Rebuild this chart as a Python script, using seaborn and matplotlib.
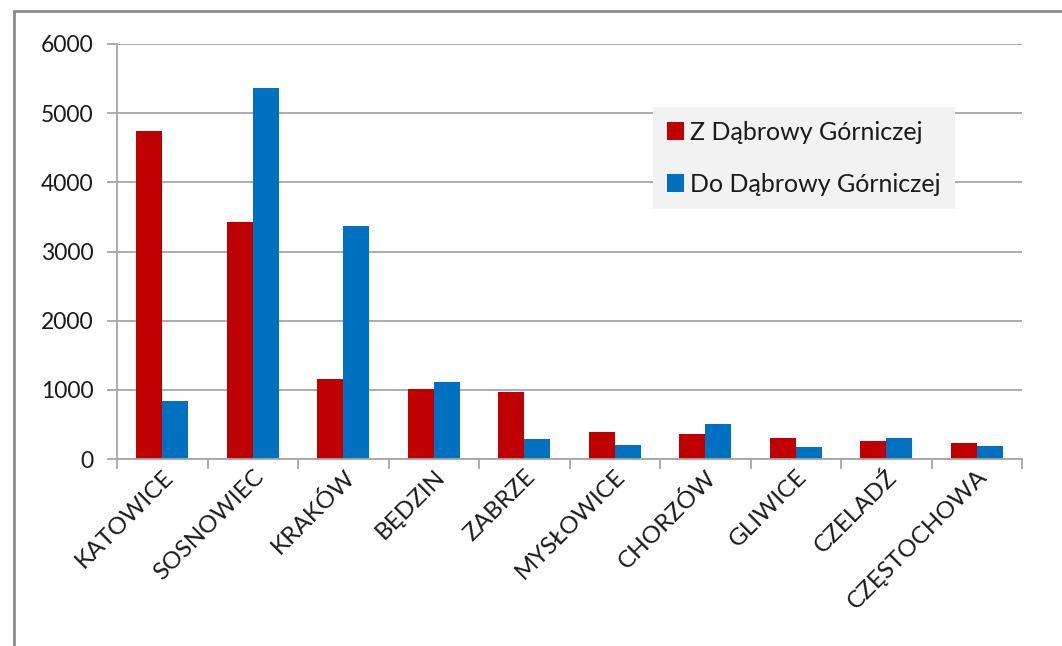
import matplotlib
matplotlib.use("Agg")
import matplotlib.pyplot as plt
import numpy as np
import pandas as pd
import seaborn as sns
from matplotlib.lines import Line2D
from matplotlib.ticker import FixedLocator

# ---------------------------------------------------------------------------
# Data
# ---------------------------------------------------------------------------
cities = [
    "KATOWICE", "SOSNOWIEC", "KRAKÓW", "BĘDZIN", "ZABRZE",
    "MYSŁOWICE", "CHORZÓW", "GLIWICE", "CZELADŹ", "CZĘSTOCHOWA",
]
z_dabrowy = [4745, 3430, 1150, 1010, 965, 390, 368, 304, 265, 230]
do_dabrowy = [835, 5370, 3370, 1112, 284, 206, 510, 167, 304, 186]
series_names = ["Z Dąbrowy Górniczej", "Do Dąbrowy Górniczej"]
yticks = [0, 1000, 2000, 3000, 4000, 5000, 6000]

df = pd.DataFrame({
    "miasto": cities * 2,
    "kierunek": [series_names[0]] * len(cities) + [series_names[1]] * len(cities),
    "liczba": z_dabrowy + do_dabrowy,
})

# ---------------------------------------------------------------------------
# Plot
# ---------------------------------------------------------------------------
sns.set_style("white")
plt.rcParams["font.family"] = ["Lato", "DejaVu Sans"]
text_col = "#1a1a1a"
grid_col = "#a6a6a6"

fig = plt.figure(figsize=(10.62, 6.46), dpi=100)
ax = fig.add_axes([117 / 1062, 1 - 459 / 646, (1022 - 117) / 1062, (459 - 44) / 646])

sns.barplot(
    data=df, x="miasto", y="liczba", hue="kierunek",
    palette=["#C00000", "#0070C0"], saturation=1, width=0.58, gap=0,
    linewidth=0, ax=ax, legend=True,
)

ax.set_xlim(-0.5, len(cities) - 0.5)
ax.set_ylim(0, 6000)
ax.set_yticks(yticks)
ax.set_yticklabels([str(v) for v in yticks], fontsize=16.5, color=text_col)
ax.yaxis.grid(True, color=grid_col, linewidth=1.3)
ax.set_axisbelow(True)
ax.set_xlabel("")
ax.set_ylabel("")

for side in ["top", "right"]:
    ax.spines[side].set_visible(False)
for side in ["left", "bottom"]:
    ax.spines[side].set_color(grid_col)
    ax.spines[side].set_linewidth(1.3)

ax.tick_params(axis="y", length=7, width=1.3, color=grid_col, pad=10, left=True)
# category labels without marks, boundary marks as minor ticks
ax.tick_params(axis="x", which="major", length=0, pad=5)
ax.xaxis.set_minor_locator(FixedLocator(np.arange(-0.5, len(cities), 1.0)))
ax.tick_params(axis="x", which="minor", length=7, width=1.3, color=grid_col, bottom=True)
ax.set_xticks(range(len(cities)))
ax.set_xticklabels(cities, rotation=45, ha="right", rotation_mode="anchor",
                   fontsize=17.5, color=text_col)

handles, labels = ax.get_legend_handles_labels()
leg = ax.legend(
    handles, labels, loc="upper left",
    bbox_to_anchor=(653 / 1062, 1 - 107 / 646), bbox_transform=fig.transFigure,
    fontsize=18, frameon=True, fancybox=False, facecolor="#f2f2f2",
    edgecolor="none", framealpha=1, handlelength=0.7, handleheight=0.7,
    handletextpad=0.25, labelspacing=1.15, borderpad=0.55, borderaxespad=0,
)
for t in leg.get_texts():
    t.set_color(text_col)

# outer frame of the chart area
fig.add_artist(Line2D([14 / 1062, 14 / 1062], [0, 1 - 11 / 646],
                      transform=fig.transFigure, color="#8c8c8c", linewidth=2))
fig.add_artist(Line2D([14 / 1062, 1], [1 - 11 / 646, 1 - 11 / 646],
                      transform=fig.transFigure, color="#8c8c8c", linewidth=2))

fig.savefig("out.png", dpi=100)
